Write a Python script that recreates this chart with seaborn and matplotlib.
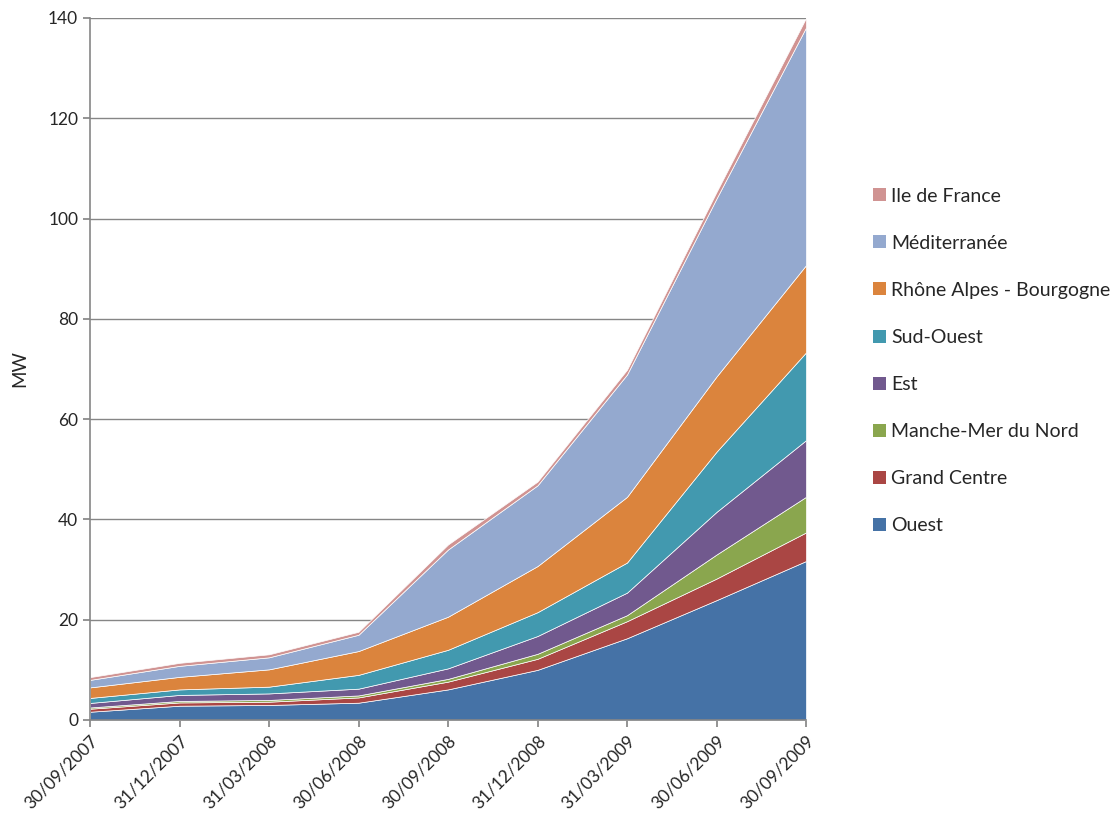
import numpy as np
import pandas as pd
import matplotlib
matplotlib.use("Agg")
import matplotlib.pyplot as plt
import seaborn as sns
from matplotlib.patches import Patch

# ==========================================
# Data (MW per region)
# ==========================================
dates = ["30/09/2007", "31/12/2007", "31/03/2008", "30/06/2008", "30/09/2008",
         "31/12/2008", "31/03/2009", "30/06/2009", "30/09/2009"]

ouest = [1.65, 2.85, 3.0, 3.45, 6.1, 10.0, 16.3, 23.9, 31.7]
grand_centre = [0.6, 0.65, 0.65, 1.05, 1.55, 2.2, 3.4, 4.3, 5.7]
manche = [0.25, 0.3, 0.35, 0.4, 0.55, 1.0, 1.2, 4.8, 7.1]
est = [0.9, 1.2, 1.3, 1.35, 2.1, 3.55, 4.5, 8.5, 11.3]
sud_ouest = [1.0, 1.1, 1.35, 2.75, 3.7, 4.75, 6.0, 12.0, 17.5]
rhone = [2.1, 2.5, 3.45, 4.75, 6.6, 9.2, 13.1, 15.0, 17.4]
mediterranee = [1.5, 2.2, 2.4, 3.25, 13.4, 16.1, 24.4, 35.5, 47.4]
ile_de_france = [0.55, 0.6, 0.6, 0.6, 1.0, 0.75, 0.95, 1.3, 1.9]

regions = ["Ouest", "Grand Centre", "Manche-Mer du Nord", "Est", "Sud-Ouest",
           "Rhône Alpes - Bourgogne", "Méditerranée", "Ile de France"]
df = pd.DataFrame(
    [ouest, grand_centre, manche, est, sud_ouest, rhone, mediterranee, ile_de_france],
    index=regions, columns=dates)

colors = ["#4572A6", "#AA4644", "#8AA64E", "#71598E",
          "#4299AF", "#DB843D", "#94A9CF", "#D09392"]

# ==========================================
# Plot
# ==========================================
sns.set_theme(style="white")
plt.rcParams["font.family"] = ["Lato", "DejaVu Sans"]

fig = plt.figure(figsize=(11.17, 8.16), dpi=100)
ax = fig.add_axes([90 / 1117, 1 - 720 / 816, (806 - 90) / 1117, (720 - 18) / 816])

x = np.arange(len(dates))
ax.stackplot(x, df.values, colors=colors, edgecolor="white", linewidth=0.5)

ax.set_xlim(0, len(dates) - 1)
ax.set_ylim(0, 140)
ax.set_yticks(range(0, 141, 20))
ax.set_xticks(x)
ax.set_xticklabels(dates, rotation=45, ha="right", rotation_mode="anchor", fontsize=12.5)
ax.tick_params(axis="y", labelsize=12.5, length=5, color="#868686", direction="out", left=True)
ax.tick_params(axis="x", length=5, color="#868686", direction="out", bottom=True, pad=4)

ax.yaxis.grid(True, color="#868686", linewidth=1)
ax.set_axisbelow(True)
for side in ["top", "right"]:
    ax.spines[side].set_visible(False)
for side in ["left", "bottom"]:
    ax.spines[side].set_color("#868686")
    ax.spines[side].set_linewidth(1.2)

ax.set_ylabel("MW", fontsize=13.5, labelpad=14)

# legend, top entry = last stacked series
handles = [Patch(facecolor=c, edgecolor="none") for c in colors][::-1]
fig.legend(handles, regions[::-1], loc="center left",
           bbox_to_anchor=(873 / 1117, 1 - 361 / 816),
           frameon=False, fontsize=14, borderpad=0, borderaxespad=0,
           handlelength=0.65, handleheight=0.65, handletextpad=0.3,
           labelspacing=1.55)

fig.savefig("out.png", dpi=100)
